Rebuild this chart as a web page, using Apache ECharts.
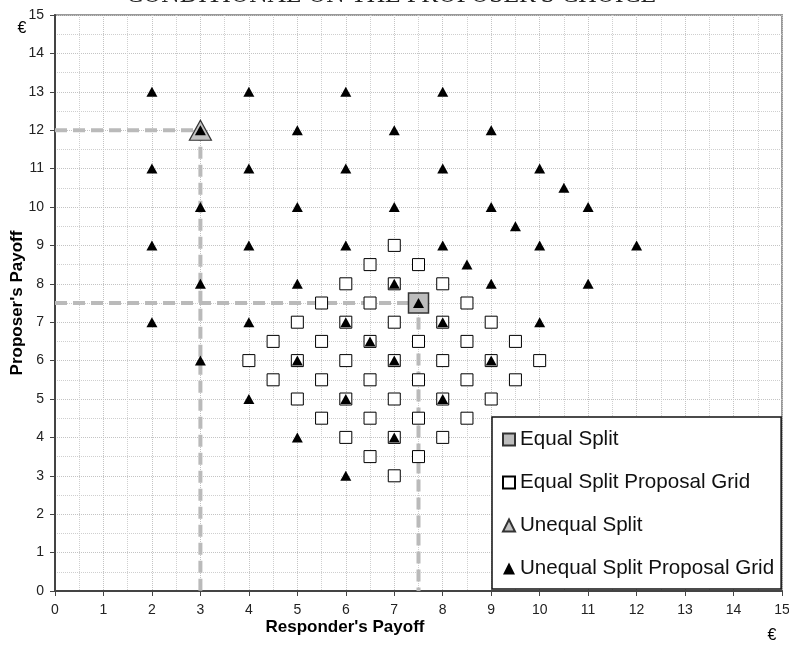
<!DOCTYPE html>
<html>
<head>
<meta charset="utf-8">
<script src="https://cdn.jsdelivr.net/npm/echarts@6/dist/echarts.min.js"></script>
<style>
html,body{margin:0;padding:0;background:#fff;}
#chart{width:789px;height:646px;}
</style>
</head>
<body>
<div id="chart"></div>
<script>
// ---- data ----
const titleText = "CONDITIONAL ON THE PROPOSER'S CHOICE";
const xAxisTitle = "Responder's Payoff";
const yAxisTitle = "Proposer's Payoff";
const currency = "€";
const seriesNames = ["Equal Split", "Equal Split Proposal Grid", "Unequal Split", "Unequal Split Proposal Grid"];

const equalSplit = [[7.5, 7.5]];
const unequalSplit = [[3, 12]];

const equalGrid = [
  [7, 9],
  [6.5, 8.5], [7.5, 8.5],
  [6, 8], [7, 8], [8, 8],
  [5.5, 7.5], [6.5, 7.5], [7.5, 7.5], [8.5, 7.5],
  [5, 7], [6, 7], [7, 7], [8, 7], [9, 7],
  [4.5, 6.5], [5.5, 6.5], [6.5, 6.5], [7.5, 6.5], [8.5, 6.5], [9.5, 6.5],
  [4, 6], [5, 6], [6, 6], [7, 6], [8, 6], [9, 6], [10, 6],
  [4.5, 5.5], [5.5, 5.5], [6.5, 5.5], [7.5, 5.5], [8.5, 5.5], [9.5, 5.5],
  [5, 5], [6, 5], [7, 5], [8, 5], [9, 5],
  [5.5, 4.5], [6.5, 4.5], [7.5, 4.5], [8.5, 4.5],
  [6, 4], [7, 4], [8, 4],
  [6.5, 3.5], [7.5, 3.5],
  [7, 3]
];

const unequalGrid = [
  [2, 13], [4, 13], [6, 13], [8, 13],
  [3, 12], [5, 12], [7, 12], [9, 12],
  [2, 11], [4, 11], [6, 11], [8, 11], [10, 11],
  [10.5, 10.5],
  [3, 10], [5, 10], [7, 10], [9, 10], [11, 10],
  [9.5, 9.5],
  [2, 9], [4, 9], [6, 9], [8, 9], [10, 9], [12, 9],
  [8.5, 8.5],
  [3, 8], [5, 8], [7, 8], [9, 8], [11, 8],
  [7.5, 7.5],
  [2, 7], [4, 7], [6, 7], [8, 7], [10, 7],
  [6.5, 6.5],
  [3, 6], [5, 6], [7, 6], [9, 6],
  [4, 5], [6, 5], [8, 5],
  [5, 4], [7, 4],
  [6, 3]
];

const equalGuide = [[0, 7.5], [7.5, 7.5], [7.5, 0]];
const unequalGuide = [[0, 12], [3, 12], [3, 0]];

const axisMin = 0, axisMax = 15, axisStep = 1;

// ---- chart ----
const chart = echarts.init(document.getElementById('chart'), null, {renderer: 'canvas'});
const sans = 'Liberation Sans, Arial, sans-serif';
const gridLine = {show: true, lineStyle: {color: '#c4c4c4', type: 'dotted', width: 1}};
const minorGridLine = {show: true, lineStyle: {color: '#cfcfcf', type: 'dotted', width: 1}};

function makeAxis(labelMargin) {
  return {
    type: 'value', min: axisMin, max: axisMax, interval: axisStep,
    axisLine: {show: true, onZero: false, lineStyle: {color: '#444', width: 2}},
    axisTick: {show: true, inside: false, length: 5, lineStyle: {color: '#444', width: 1}},
    axisLabel: {fontFamily: sans, fontSize: 14, color: '#222', margin: labelMargin},
    splitLine: gridLine,
    minorTick: {show: false, splitNumber: 2},
    minorSplitLine: minorGridLine
  };
}

const guideStyle = {color: '#bababa', width: 4, type: [12, 6]};

chart.setOption({
  animation: false,
  backgroundColor: '#fff',
  grid: {left: 55, right: 7, top: 15, bottom: 55, containLabel: false, outerBoundsMode: 'none',
    show: true, borderColor: '#999', borderWidth: 2, backgroundColor: 'transparent'},
  xAxis: makeAxis(12),
  yAxis: makeAxis(11),
  legend: {
    data: [
      {name: seriesNames[0], icon: 'rect'},
      {name: seriesNames[1], icon: 'rect'},
      {name: seriesNames[2], icon: 'triangle'},
      {name: seriesNames[3], icon: 'triangle'}
    ],
    orient: 'vertical', left: 492, top: 417, z: 60,
    itemWidth: 12, itemHeight: 12, itemGap: 22,
    padding: [12, 7, 10, 10],
    backgroundColor: '#fff', borderColor: '#111', borderWidth: 1.5,
    textStyle: {fontFamily: sans, fontSize: 20.6, lineHeight: 20, color: '#111'},
    selectedMode: false
  },
  graphic: [
    {type: 'text', z: 100, position: [391, -5], style: {text: titleText, font: '25.5px "Liberation Serif", serif', fill: '#222', textAlign: 'center', textVerticalAlign: 'middle'}},
    {type: 'text', z: 100, position: [345, 627], style: {text: xAxisTitle, font: 'bold 17px ' + sans, fill: '#000', textAlign: 'center', textVerticalAlign: 'middle'}},
    {type: 'text', z: 100, position: [17, 303], rotation: Math.PI / 2, style: {text: yAxisTitle, font: 'bold 17px ' + sans, fill: '#000', textAlign: 'center', textVerticalAlign: 'middle'}},
    {type: 'text', z: 100, position: [22, 29], style: {text: currency, font: '16px ' + sans, fill: '#000', textAlign: 'center', textVerticalAlign: 'middle'}},
    {type: 'text', z: 100, position: [772, 636], style: {text: currency, font: '16px ' + sans, fill: '#000', textAlign: 'center', textVerticalAlign: 'middle'}}
  ],
  series: [
    {name: 'guideEqual', type: 'line', data: equalGuide, symbol: 'none', silent: true, z: 1, lineStyle: guideStyle},
    {name: 'guideUnequal', type: 'line', data: unequalGuide, symbol: 'none', silent: true, z: 1, lineStyle: guideStyle},
    {name: seriesNames[1], type: 'scatter', data: equalGrid, symbol: 'rect', symbolSize: 12, z: 3,
      itemStyle: {color: '#fff', borderColor: '#000', borderWidth: 1, opacity: 1}},
    {name: seriesNames[0], type: 'scatter', data: equalSplit, symbol: 'rect', symbolSize: 20, z: 4,
      itemStyle: {color: '#bdbdbd', borderColor: '#333', borderWidth: 1.5, opacity: 1}},
    {name: seriesNames[2], type: 'scatter', data: unequalSplit, symbol: 'triangle', symbolSize: [22, 20], z: 4,
      itemStyle: {color: '#c2c2c2', borderColor: '#333', borderWidth: 1.2, opacity: 1}},
    {name: seriesNames[3], type: 'scatter', data: unequalGrid, symbol: 'triangle', symbolSize: [11, 10], z: 5,
      itemStyle: {color: '#000', opacity: 1}}
  ]
});
</script>
</body>
</html>
